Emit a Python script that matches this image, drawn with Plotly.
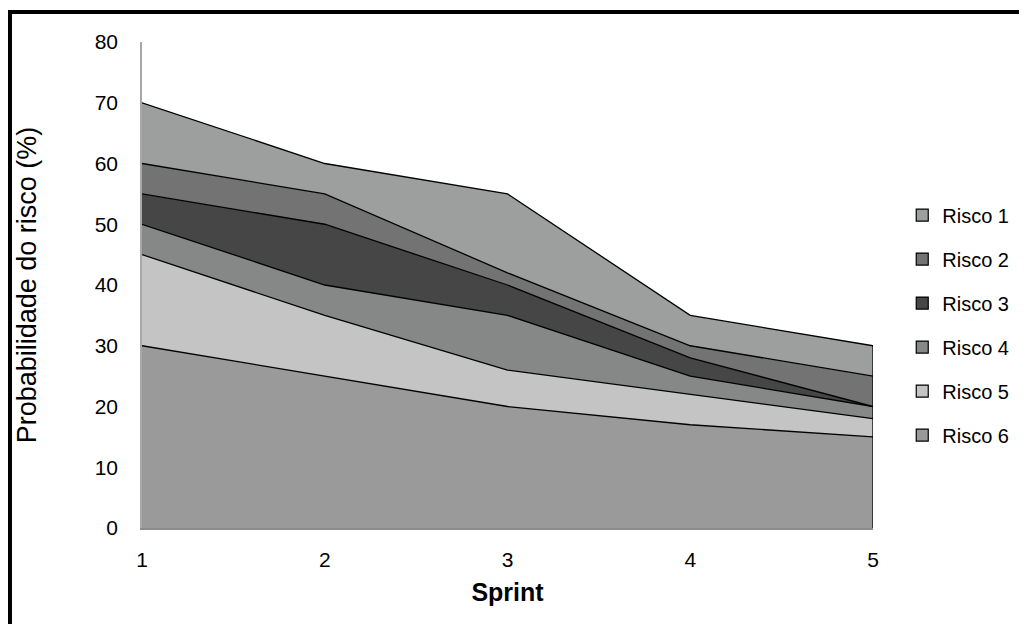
import plotly.graph_objects as go

sprints = [1, 2, 3, 4, 5]
series_names = ["Risco 1", "Risco 2", "Risco 3", "Risco 4", "Risco 5", "Risco 6"]
risco1 = [10, 5, 13, 5, 5]
risco2 = [5, 5, 2, 2, 5]
risco3 = [5, 10, 5, 3, 0]
risco4 = [5, 5, 9, 3, 2]
risco5 = [15, 10, 6, 5, 3]
risco6 = [30, 25, 20, 17, 15]
y_ticks = [0, 10, 20, 30, 40, 50, 60, 70, 80]

values = {"Risco 1": risco1, "Risco 2": risco2, "Risco 3": risco3,
          "Risco 4": risco4, "Risco 5": risco5, "Risco 6": risco6}
colors = {"Risco 1": "#9d9f9e", "Risco 2": "#737373", "Risco 3": "#464646",
          "Risco 4": "#868887", "Risco 5": "#c4c4c4", "Risco 6": "#9a9a9a"}

FONT = "Liberation Sans, Arial, sans-serif"

fig = go.Figure()
# stacked areas, bottom first
for name in reversed(series_names):
    fig.add_trace(go.Scatter(
        x=sprints, y=values[name], name=name, stackgroup="one",
        mode="lines", line=dict(color="black", width=1.3),
        fillcolor=colors[name], showlegend=False, hoverinfo="skip"))

# right edge outline of the stacked area
total_last = sum(values[n][-1] for n in series_names)
fig.add_trace(go.Scatter(x=[sprints[-1], sprints[-1]], y=[0, total_last],
                         mode="lines", line=dict(color="black", width=1.3),
                         showlegend=False, hoverinfo="skip"))

# legend entries (square swatches)
for name in series_names:
    fig.add_trace(go.Scatter(
        x=[None], y=[None], name=name, mode="markers", legendgroup=name,
        marker=dict(symbol="square", size=12, color=colors[name],
                    line=dict(color="black", width=1.2)),
        showlegend=True))

fig.update_layout(
    width=1019, height=616,
    margin=dict(l=133.5, r=153.5, t=34, b=96),
    paper_bgcolor="white", plot_bgcolor="white",
    font=dict(family=FONT, size=21, color="black"),
    showlegend=True,
    legend=dict(x=1.04, y=0.684, xanchor="left", yanchor="top",
                traceorder="grouped", tracegroupgap=15,
                font=dict(family=FONT, size=20, color="black"),
                itemwidth=30, bgcolor="rgba(0,0,0,0)"),
    xaxis=dict(range=[1, 5], tickvals=sprints, showgrid=False, zeroline=False,
               showline=True, linecolor="#8c8c8c", linewidth=2,
               ticks="", ticklabelstandoff=12,
               tickfont=dict(family=FONT, size=21),
               title=dict(text="<b>Sprint</b>", standoff=13,
                          font=dict(family=FONT, size=25))),
    yaxis=dict(range=[0, 80], tickvals=y_ticks, showgrid=False, zeroline=False,
               showline=True, linecolor="#a8a8a8", linewidth=1.5,
               ticks="", ticklabelstandoff=18,
               tickfont=dict(family=FONT, size=21),
               title=dict(text="Probabilidade do risco (%)", standoff=50,
                          font=dict(family=FONT, size=27))),
    shapes=[dict(type="rect", xref="paper", yref="paper",
                 x0=-0.1806, x1=1.6, y0=-0.6, y1=1.0617,
                 line=dict(color="black", width=4), fillcolor="rgba(0,0,0,0)",
                 layer="above")],
)

fig.write_html("out.html")
